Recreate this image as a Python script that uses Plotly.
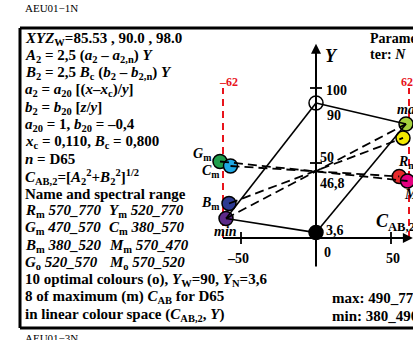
import plotly.graph_objects as go

W_PX, H_PX = 413, 340

# colour points in the (C_AB,2 , Y) plane
colour_names = ["G_m", "C_m", "B_m", "min", "R_m", "M_m", "max", "Y_m"]
c_ab = [-64, -57, -58, -60, 55.5, 61, 60, 58]
y_val = [51, 48, 23, 13, 41, 38, 76, 66.7]
fill = ["#1f9e4c", "#1ea8e4", "#2d3a92", "#5c2a88", "#e62a2c", "#e4007f", "#a4d03c", "#f3ea00"]

neutral_names = ["W", "N"]
neutral_c = [0, 0]
neutral_y = [90, 3.6]
neutral_fill = ["white", "black"]

solid_pairs = [("W", "max"), ("W", "min"), ("N", "max"), ("N", "min")]
dashed_pairs = [("G_m", "M_m"), ("C_m", "R_m"), ("B_m", "Y_m"), ("min", "max")]

c_limits = [-62, 62]
x_ticks = [-50, 50]
y_ticks = [100, 50]

text_lines = [
    "<i>XYZ</i><sub>W</sub>=85.53 , 90.0 , 98.0",
    "<i>A</i><sub>2</sub> = 2,5 (<i>a</i><sub>2</sub> – <i>a</i><sub>2,n</sub>) <i>Y</i>",
    "<i>B</i><sub>2</sub> = 2,5 <i>B</i><sub>c</sub> (<i>b</i><sub>2</sub> – <i>b</i><sub>2,n</sub>) <i>Y</i>",
    "<i>a</i><sub>2</sub> = <i>a</i><sub>20</sub> [(<i>x</i>–<i>x</i><sub>c</sub>)/<i>y</i>]",
    "<i>b</i><sub>2</sub> = <i>b</i><sub>20</sub> [<i>z</i>/<i>y</i>]",
    "<i>a</i><sub>20</sub> = 1, <i>b</i><sub>20</sub> = –0,4",
    "<i>x</i><sub>c</sub> = 0,110, <i>B</i><sub>c</sub> = 0,800",
    "<i>n</i> = D65",
    "<i>C</i><sub>AB,2</sub>=[<i>A</i><sub>2</sub><sup>2</sup>+<i>B</i><sub>2</sub><sup>2</sup>]<sup>1/2</sup>",
    "Name and spectral range",
    "<i>R</i><sub>m</sub> <i>570_770</i>",
    "<i>G</i><sub>m</sub> <i>470_570</i>",
    "<i>B</i><sub>m</sub> <i>380_520</i>",
    "<i>G</i><sub>o</sub> <i>520_570</i>",
    "10 optimal colours (o), <i>Y</i><sub>W</sub>=90, <i>Y</i><sub>N</sub>=3,6",
    "8 of maximum (m) <i>C</i><sub>AB</sub> for D65",
    "in linear colour space (<i>C</i><sub>AB,2</sub>, <i>Y</i>)",
]
second_col = {
    10: "<i>Y</i><sub>m</sub> <i>520_770</i>",
    11: "<i>C</i><sub>m</sub> <i>380_570</i>",
    12: "<i>M</i><sub>m</sub> <i>570_470</i>",
    13: "<i>M</i><sub>o</sub> <i>570_520</i>",
}

SERIF = "Liberation Serif"
LINE0, LINE_STEP = 38.5, 17.25


def fx(px):
    return px / W_PX


def fy(py):
    return 1 - py / H_PX


# pixel -> data: origin at (316, 238), 1.5 px per unit
x_range = [(0 - 316) / 1.5, (W_PX - 316) / 1.5]
y_range = [(238 - H_PX) / 1.5, (238 - 0) / 1.5]

pos = {n: (c, y) for n, c, y in zip(colour_names, c_ab, y_val)}
pos.update({n: (c, y) for n, c, y in zip(neutral_names, neutral_c, neutral_y)})

fig = go.Figure()

# red limit lines
for c in c_limits:
    fig.add_trace(go.Scatter(x=[c, c], y=[0, 100], mode="lines",
                             line=dict(color="#e8141c", width=2, dash="7px,5px"),
                             hoverinfo="skip"))

# markers
fig.add_trace(go.Scatter(x=c_ab, y=y_val, mode="markers",
                         marker=dict(size=14, color=fill, line=dict(color="black", width=1.5))))
fig.add_trace(go.Scatter(x=neutral_c, y=neutral_y, mode="markers",
                         marker=dict(size=14, color=neutral_fill, line=dict(color="black", width=1.5))))

# connecting lines drawn over the circles
for a, b in solid_pairs:
    fig.add_trace(go.Scatter(x=[pos[a][0], pos[b][0]], y=[pos[a][1], pos[b][1]], mode="lines",
                             line=dict(color="black", width=1.6)))
for a, b in dashed_pairs:
    fig.add_trace(go.Scatter(x=[pos[a][0], pos[b][0]], y=[pos[a][1], pos[b][1]], mode="lines",
                             line=dict(color="black", width=1.8, dash="9px,5px")))

shapes = []
# frame (top, left, bottom)
for x0, y0, x1, y1 in [(20, 28, W_PX, 28), (20, 28, 20, 328), (20, 328, W_PX, 328)]:
    shapes.append(dict(type="line", xref="paper", yref="paper",
                       x0=fx(x0), y0=fy(y0), x1=fx(x1), y1=fy(y1),
                       line=dict(color="black", width=3)))
# axis ticks
for c in x_ticks:
    shapes.append(dict(type="line", x0=c, x1=c, y0=-4, y1=4, line=dict(color="black", width=1.8)))
for y in y_ticks:
    shapes.append(dict(type="line", x0=-4, x1=4, y0=y, y1=y, line=dict(color="black", width=1.8)))

annotations = []
# axes with arrow heads
annotations.append(dict(x=0, y=129.5, ax=0, ay=-20, xref="x", yref="y", axref="x", ayref="y",
                        text="", showarrow=True, arrowhead=2, arrowsize=1, arrowwidth=2,
                        arrowcolor="black"))
annotations.append(dict(x=64.6, y=0, ax=-63, ay=0, xref="x", yref="y", axref="x", ayref="y",
                        text="", showarrow=True, arrowhead=2, arrowsize=1, arrowwidth=2,
                        arrowcolor="black"))


def label(px, py, text, size=14, anchor="left", color="black", weight="bold"):
    annotations.append(dict(x=fx(px), y=fy(py), xref="paper", yref="paper", text=text,
                            showarrow=False, xanchor=anchor, yanchor="middle",
                            font=dict(family=SERIF, size=size, color=color, weight=weight)))


# left text block
for i, t in enumerate(text_lines):
    label(23, LINE0 + i * LINE_STEP, t, size=15)
for i, t in second_col.items():
    label(107, LINE0 + i * LINE_STEP, t, size=15)

label(23, 8, "AEU01−1N", size=11, weight="normal")
label(23, 338, "AEU01−3N", size=11, weight="normal")

# right text
label(368, 38, "Parame-", size=14)
label(368, 55, "ter: <i>N</i>", size=14)
label(330, 298, "max: 490_770", size=15)
label(330, 316, "min: 380_490", size=15)

# axis labels
label(323, 56, "<i>Y</i>", size=18)
label(374, 222, "<i>C</i><sub>AB,2</sub>", size=18)
label(324, 91, "100")
label(325, 115, "90")
label(318, 157, "50")
label(318, 183, "46,8")
label(324, 230, "3,6")
label(322, 252, "0")
label(238, 258, "–50", anchor="center")
label(393, 258, "50", anchor="center")
label(228, 82, "–62", size=12, anchor="center", color="#e8141c")
label(407, 82, "62", size=12, anchor="center", color="#e8141c")

# point labels
label(213, 155, "<i>G</i><sub>m</sub>", anchor="right")
label(222, 171, "<i>C</i><sub>m</sub>", anchor="right")
label(222, 203, "<i>B</i><sub>m</sub>", anchor="right")
label(225, 231, "<i>min</i>", anchor="center")
label(395, 110, "<i>max</i>")
label(396, 162, "<i>R</i><sub>m</sub>")
label(402, 196, "<i>M</i><sub>m</sub>")

fig.update_layout(
    width=W_PX, height=H_PX,
    margin=dict(l=0, r=0, t=0, b=0),
    paper_bgcolor="white", plot_bgcolor="white",
    showlegend=False,
    xaxis=dict(range=x_range, visible=False, fixedrange=True),
    yaxis=dict(range=y_range, visible=False, fixedrange=True),
    shapes=shapes,
    annotations=annotations,
)

# the page's default body margin would shift the figure by 8px
fig.write_html("out.html", config={"displayModeBar": False},
               post_script="document.body.style.margin='0';document.body.style.overflow='hidden';")
